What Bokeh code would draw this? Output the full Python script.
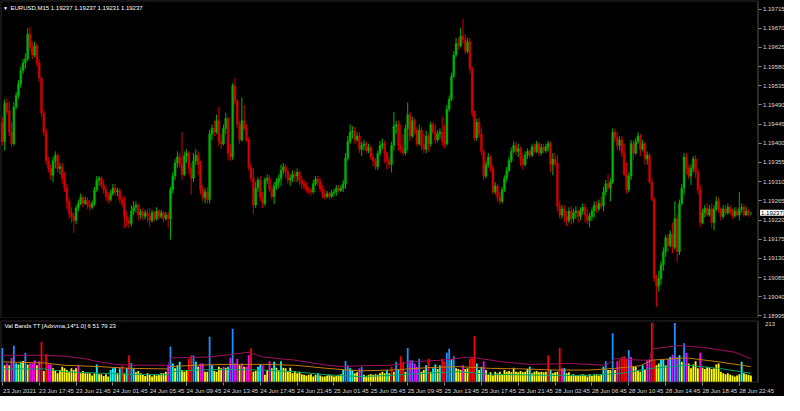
from bokeh.plotting import figure
from bokeh.layouts import column
from bokeh.models import (ColumnDataSource, FixedTicker, Label, Range1d, LinearAxis,
                          BoxAnnotation, PrintfTickFormatter)
from bokeh.embed import file_html
from bokeh.resources import INLINE

# ---------------- data (prices in points of 0.00001 above 1.19000) ----------------
BASE = 1.19
open_pts = [
    449,404,494,476,426,399,485,512,539,571, 589,598,656,625,607,629,589,553,471,426,
    359,341,325,359,372,341,345,318,295,264, 237,228,219,248,259,273,259,266,255,250,
    259,291,314,318,302,291,275,268,282,295, 286,289,268,259,228,219,212,241,250,255,
    232,239,228,237,230,219,237,223,241,228, 237,223,232,223,291,323,354,368,350,327,
    370,377,341,318,359,372,350,291,273,286, 268,422,435,426,453,404,399,435,458,377,
    368,535,499,444,408,453,435,408,343,318, 255,295,314,273,259,314,318,291,275,300,
    309,318,336,345,332,314,318,327,323,332, 314,305,298,291,289,286,305,316,309,293,
    280,275,282,275,284,286,295,289,295,305, 365,404,426,429,408,417,386,395,399,383,
    390,368,359,345,377,395,399,377,359,350, 395,440,444,395,386,377,435,467,417,453,
    431,399,431,395,386,417,399,444,426,408, 422,426,404,399,480,503,557,607,634,629,
    652,643,616,638,575,471,413,449,422,381, 323,350,368,341,286,300,273,264,291,318,
    336,359,381,395,381,388,363,350,372,381, 372,392,381,399,377,390,383,392,399,350,
    363,354,253,232,246,228,219,241,223,237, 241,228,241,250,232,219,228,241,255,246,
    259,253,286,305,295,309,426,413,395,408, 377,327,291,323,399,377,404,417,386,399,
    363,372,309,268,83,65,83,115,146,178, 160,187,156,223,146,259,295,368,341,323,
    341,363,332,291,214,237,248,232,246,214, 246,264,246,228,246,237,250,237,230,241,
    232,246,250,232,241,237]
close_pts = [
    404,494,476,426,399,485,512,539,571,589, 598,656,625,607,629,589,553,471,426,359,
    341,325,359,372,341,345,318,295,264,237, 228,219,248,259,273,259,266,255,250,259,
    291,314,318,302,291,275,268,282,295,286, 289,268,259,228,219,212,241,250,255,232,
    239,228,237,230,219,237,223,241,228,237, 223,232,223,291,323,354,368,350,327,370,
    377,341,318,359,372,350,291,273,286,268, 422,435,426,453,404,399,435,458,377,368,
    535,499,444,408,453,435,408,343,318,255, 295,314,273,259,314,318,291,275,300,309,
    318,336,345,332,314,318,327,323,332,314, 305,298,291,289,286,305,316,309,293,280,
    275,282,275,284,286,295,289,295,305,365, 404,426,429,408,417,386,395,399,383,390,
    368,359,345,377,395,399,377,359,350,395, 440,444,395,386,377,435,467,417,453,431,
    399,431,395,386,417,399,444,426,408,422, 426,404,399,480,503,557,607,634,629,652,
    643,616,638,575,471,413,449,422,381,323, 350,368,341,286,300,273,264,291,318,336,
    359,381,395,381,388,363,350,372,381,372, 392,381,399,377,390,383,392,399,350,363,
    354,253,232,246,228,219,241,223,237,241, 228,241,250,232,219,228,241,255,246,259,
    253,286,305,295,309,426,413,395,408,377, 327,291,323,399,377,404,417,386,399,363,
    372,309,268,83,65,83,115,146,178,160, 187,156,223,146,259,295,368,341,323,341,
    363,332,291,214,237,248,232,246,214,246, 264,246,228,246,237,250,237,230,241,232,
    246,250,232,241,237,237]
high_pts = [
    462,503,505,499,449,496,521,548,580,598, 611,670,674,638,638,634,598,557,480,435,
    368,350,368,381,377,354,354,332,305,273, 250,237,255,268,282,280,275,273,264,266,
    298,323,323,323,314,300,286,291,305,305, 295,295,277,275,241,228,255,264,264,259,
    246,248,244,246,248,244,241,250,246,244, 241,239,239,298,332,363,381,377,426,381,
    386,381,354,377,386,381,359,300,295,298, 431,444,453,467,485,422,444,471,462,399,
    541,553,503,453,508,490,444,415,354,341, 309,320,323,286,320,327,325,302,309,318,
    327,350,354,350,341,327,336,336,341,336, 323,314,309,298,295,314,323,323,318,302,
    291,289,286,291,293,302,302,302,314,377, 417,444,440,438,426,426,404,408,404,399,
    395,377,365,383,406,411,406,381,368,404, 474,453,453,444,422,444,496,474,462,458,
    438,444,438,422,429,422,451,451,444,431, 435,462,444,490,512,566,616,647,647,670,
    692,656,647,647,580,476,458,460,435,386, 359,377,372,350,309,305,286,298,325,345,
    368,390,404,404,399,392,377,381,388,386, 399,399,406,404,399,399,399,406,404,377,
    377,372,264,255,255,241,250,253,246,253, 246,250,259,259,246,237,250,264,264,268,
    275,298,314,327,318,435,435,426,417,417, 399,354,332,408,408,413,426,422,408,404,
    381,377,318,273,92,101,124,156,185,187, 196,214,264,237,268,305,377,377,350,350,
    370,372,341,302,246,255,259,255,259,255, 275,273,250,255,255,259,255,246,250,250,
    286,259,257,250,246,237]
low_pts = [
    395,383,467,417,392,395,480,505,530,562, 575,593,616,598,602,580,544,462,417,350,
    332,314,309,341,332,327,305,286,246,223, 214,190,210,241,255,250,255,246,241,246,
    253,286,300,295,282,264,259,264,277,277, 275,259,250,201,205,201,205,232,237,219,
    223,219,221,214,203,214,217,219,221,223, 214,219,201,174,282,314,343,341,314,323,
    354,327,280,309,350,325,280,264,259,259, 259,408,417,422,395,386,395,422,361,359,
    361,490,435,399,404,431,404,336,309,235, 248,286,264,248,253,305,286,268,257,291,
    295,300,327,318,305,300,309,309,309,302, 293,291,284,282,277,282,300,300,286,271,
    268,271,268,271,275,277,284,286,286,293, 359,399,411,399,404,377,370,383,377,377,
    361,347,338,338,372,386,354,338,341,332, 383,422,383,377,370,372,383,406,413,422,
    392,395,383,377,377,381,392,422,399,404, 411,395,388,395,474,499,553,602,620,625,
    634,609,611,564,462,406,406,413,372,314, 318,343,332,280,280,264,257,259,286,309,
    332,354,377,372,368,347,338,345,363,365, 368,377,377,370,372,377,377,381,332,325,
    345,241,223,223,214,205,212,210,214,223, 214,219,232,214,210,203,219,226,237,241,
    246,241,277,291,264,305,404,386,383,368, 323,282,286,314,361,372,399,370,381,350,
    350,305,264,74,16,52,68,101,133,146, 156,142,151,122,138,255,280,327,316,302,
    332,318,280,203,210,226,228,228,201,196, 241,237,219,223,232,232,232,223,226,228,
    219,237,228,230,228,231]

# indicator histogram values and their band state
volume = [
    119,58,64,58,84,127,64,61,70,73, 102,61,64,64,76,58,72,141,38,98,
    61,61,47,41,30,41,53,47,41,35, 47,41,47,58,30,38,30,30,30,22,
    30,61,26,26,20,26,18,41,47,49, 30,47,56,30,47,93,66,47,33,38,
    30,24,20,30,24,18,24,22,24,30, 30,35,58,124,64,47,58,70,41,35,
    41,81,93,93,70,53,64,64,35,35, 159,58,38,35,53,47,53,49,53,84,
    187,64,81,58,64,53,53,93,118,35, 38,53,61,58,24,41,72,47,70,49,
    41,72,49,47,38,49,30,38,30,35, 26,24,22,24,26,18,24,30,22,18,
    18,22,24,22,18,20,24,26,41,73, 58,47,41,30,33,47,53,24,18,24,
    26,24,26,24,30,35,30,41,30,53, 35,70,41,90,70,35,119,76,76,64,
    53,81,35,41,58,81,35,47,61,45, 58,81,70,102,116,79,90,47,45,41,
    58,45,47,81,87,161,64,41,53,72, 41,24,33,22,35,30,35,26,41,35,
    38,33,49,35,33,38,33,35,45,53, 30,35,38,33,35,33,35,93,41,30,
    33,35,119,47,47,30,33,24,26,22, 22,24,26,24,18,26,20,26,26,22,
    26,53,72,41,41,171,41,72,79,87, 90,81,112,87,53,53,41,35,58,41,
    76,79,207,76,58,64,79,79,58,81, 87,95,207,87,93,70,136,102,64,47,
    61,72,47,102,49,45,53,49,45,47, 61,64,35,30,26,30,24,22,18,22,
    26,70,30,26,24,22]
volume_state = list(
    "BYMYMBCYCY" "BYMMMYMRYR" "MMYYYYYYYY" "YYYMYYYYYY" "YCYYYYYCCC"
    "YCRYCRBCYY" "YYYYYYYYYY" "YYMBCYCCYY" "YRRBCYMMYY" "BCYYYYMYCM"
    "BMMYMYMMRY" "YCCMYYMYCY" "YCYYYYYYYY" "YYYYYYYCYY" "YYYYYYYYCB"
    "BCCYYMBYYY" "YYYYYYYCYR" "YBCRRYBMBM" "MBYYCRYCCY" "CRRBBCBYYY"
    "MYYRRRCYCM" "YYYYYYYYYY" "YYYYYYYYYC" "YYYYYYYRCY" "YYRMCYYYYY"
    "YYYYYYYYYY" "YCBYYBYMRR" "RRBMYYYYCY" "MMRRYYCCYM" "CMBMCYBMYY"
    "YYYMYYYYYY" "YYYYYYYYYY" "YCYYYY")

# band lines (bar index, value)
upper_idx = [0,18,27,36,42,49,56,72,73,90,98,107,113,127,141,148,155,169,178,191,
             203,217,229,247,262,266,277,281,282,294,304,318,325]
upper_val = [93,93,90,81,70,61,58,58,84,87,95,104,87,76,58,53,56,58,70,76,
             87,70,61,64,58,81,76,76,116,127,121,104,81]
mid_idx = [0,18,27,42,56,72,73,84,98,113,127,141,155,169,184,198,212,226,240,255,
           266,277,282,297,311,325]
mid_val = [70,66,58,53,47,45,53,58,61,61,58,47,38,41,49,53,47,45,41,41,
           47,56,76,84,70,53]
low_idx = [0,18,27,42,56,72,73,84,98,113,127,141,155,169,184,198,212,226,240,255,
           269,282,297,311,325]
low_val = [45,45,35,30,26,24,35,41,43,41,35,24,18,22,30,35,26,24,22,22,
           30,47,58,47,30]

time_tick_idx = [0,16,32,48,64,80,96,112,128,144,160,176,192,208,224,240,256,272,288,304,320]
time_tick_labels = ["23 Jun 2021","23 Jun 17:45","23 Jun 21:45","24 Jun 01:45","24 Jun 05:45",
                    "24 Jun 09:45","24 Jun 13:45","24 Jun 17:45","24 Jun 21:45","25 Jun 01:45",
                    "25 Jun 05:45","25 Jun 09:45","25 Jun 13:45","25 Jun 17:45","25 Jun 21:45",
                    "28 Jun 02:45","28 Jun 06:45","28 Jun 10:45","28 Jun 14:45","28 Jun 18:45",
                    "28 Jun 22:45"]
price_ticks = [1.19715,1.19670,1.19625,1.19580,1.19535,1.19490,1.19445,1.19400,1.19355,
               1.19310,1.19265,1.19220,1.19175,1.19130,1.19085,1.19040,1.18995]
vol_max_label = "213"
title_text = "EURUSD,M15  1.19237 1.19237 1.19231 1.19237"
last_price = 1.19237
indicator_title = "Val Bands TT [Adxvma,14*1.0] 6 51 79 23"

# ---------------- styling ----------------
FONT = "Liberation Sans"
FS = "6px"
BULL, BEAR = "#00b400", "#d40000"
STATE_COLORS = {"Y": "#ffff00", "C": "#00ffff", "B": "#1e90ff", "M": "#ff00ff", "R": "#ff0000"}
FRAME = "#8c8c8c"
TXT = "#d8d8d8"
W, FH1, FH2 = 784, 318, 62
X0, X1, XAX = -0.8, 339.6, 328.1      # visible bar range and price-scale position
LABEL_SHIFT = 7.5                      # time labels start at their tick (left aligned)
VMAX_LABEL_POS = 202                   # "213" label sits just below the panel top

idx = list(range(len(close_pts)))
o = [BASE + v / 1e5 for v in open_pts]
c = [BASE + v / 1e5 for v in close_pts]
h = [BASE + v / 1e5 for v in high_pts]
l = [BASE + v / 1e5 for v in low_pts]
col = [BULL if cc >= oo else BEAR for oo, cc in zip(o, c)]
src = ColumnDataSource(dict(x=idx, top=[max(a, b) for a, b in zip(o, c)],
                            bottom=[min(a, b) for a, b in zip(o, c)],
                            high=h, low=l, color=col))

xr = Range1d(X0, X1)


def base_fig(fh, yr, bottom):
    f = figure(frame_width=W, frame_height=fh, x_range=xr, y_range=yr,
               output_backend="svg", toolbar_location=None,
               x_axis_location=None, y_axis_location=None,
               background_fill_color="black", border_fill_color="black",
               outline_line_color=None,
               min_border_left=0, min_border_right=0, min_border_top=0,
               min_border_bottom=bottom)
    f.grid.grid_line_color = None
    f.add_layout(BoxAnnotation(right=XAX, fill_color=None, line_color=FRAME,
                               line_width=2))
    return f


def price_axis(ticks, fmt=None):
    a = LinearAxis(fixed_location=XAX, ticker=FixedTicker(ticks=ticks))
    if fmt:
        a.formatter = fmt
    a.axis_line_color = None
    a.major_tick_line_color = FRAME
    a.major_tick_out = 3
    a.major_tick_in = 0
    a.minor_tick_line_color = None
    a.major_label_standoff = 2
    a.major_label_text_color = TXT
    a.major_label_text_font = FONT
    a.major_label_text_font_size = FS
    return a


# ---------------- main price panel ----------------
p = base_fig(FH1, Range1d(1.18989, 1.19735), 0)
p.add_layout(price_axis(price_ticks, PrintfTickFormatter(format="%.5f")), "right")

p.segment(x0="x", y0="low", x1="x", y1="high", color="color", line_width=1, source=src)
p.vbar(x="x", top="top", bottom="bottom", width=0.8, fill_color="color",
       line_color="color", line_width=0.5, source=src)

p.add_layout(Label(x=2.5, y=FH1 - 7, x_units="screen", y_units="screen", text="\u25BC",
                   text_color="white", text_font=FONT, text_font_size="5px",
                   text_baseline="middle"))
p.add_layout(Label(x=10, y=FH1 - 7, x_units="screen", y_units="screen", text=title_text,
                   text_color="white", text_font=FONT, text_font_size=FS,
                   text_baseline="middle"))
price_box = Label(x=XAX + 0.9, y=last_price, x_units="data", y_units="data",
                  text="1.19237", text_color="black", text_font=FONT, text_font_size=FS,
                  text_baseline="middle", background_fill_color="white")
if hasattr(price_box, "padding"):
    price_box.padding = 1
p.add_layout(price_box)

# ---------------- indicator panel ----------------
q = base_fig(FH2, Range1d(-3, 216), 12)
q.min_border_top = 2
qa = price_axis([VMAX_LABEL_POS])
qa.major_label_overrides = {VMAX_LABEL_POS: vol_max_label}
qa.major_tick_line_color = None
qa.major_label_standoff = 4
q.add_layout(qa, "right")

xa = LinearAxis(bounds=(X0, XAX),
                ticker=FixedTicker(ticks=[t + LABEL_SHIFT for t in time_tick_idx],
                                   minor_ticks=time_tick_idx))
xa.major_label_overrides = {t + LABEL_SHIFT: s for t, s in zip(time_tick_idx, time_tick_labels)}
xa.axis_line_color = None
xa.major_tick_line_color = None
xa.major_tick_out = 0
xa.major_tick_in = 0
xa.minor_tick_line_color = FRAME
xa.minor_tick_out = 3
xa.minor_tick_in = 0
xa.major_label_standoff = 2
xa.major_label_text_color = TXT
xa.major_label_text_font = FONT
xa.major_label_text_font_size = FS
q.add_layout(xa, "below")

vsrc = ColumnDataSource(dict(x=idx, top=volume,
                             color=[STATE_COLORS[s] for s in volume_state]))
q.vbar(x="x", top="top", bottom=0, width=0.78, fill_color="color", line_color=None,
       source=vsrc)
q.line(upper_idx, upper_val, line_color="#a0105f", line_width=1)
q.line(mid_idx, mid_val, line_color="#c87a0a", line_width=1)
q.line(low_idx, low_val, line_color="#00a068", line_width=1)

q.add_layout(Label(x=4, y=FH2 - 5, x_units="screen", y_units="screen", text=indicator_title,
                   text_color="white", text_font=FONT, text_font_size=FS,
                   text_baseline="middle"))

layout = column(p, q, spacing=0, background="black")
open("out.html", "w").write(file_html(layout, INLINE))
